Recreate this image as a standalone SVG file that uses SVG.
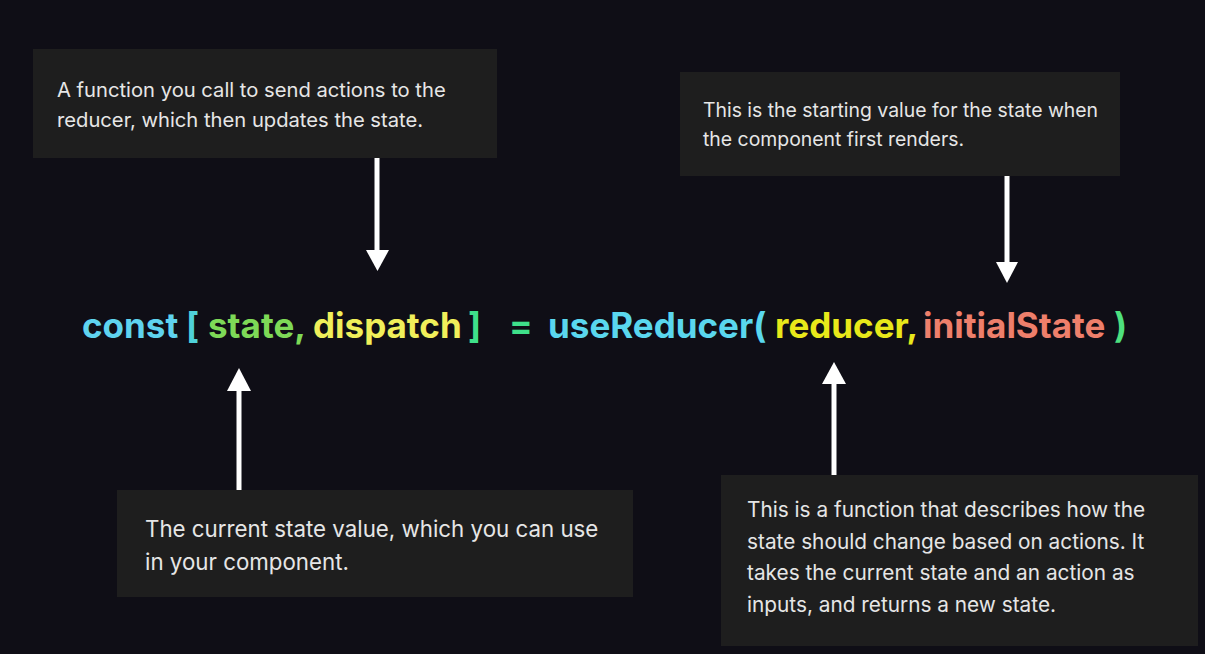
<svg xmlns="http://www.w3.org/2000/svg" width="1205" height="654" viewBox="0 0 1205 654">
<style>
.box{fill:#1e1e1e}
.t{font-family:Inter,"Noto Sans",sans-serif;fill:#e6e6e6}
.c{font-family:Inter,"Noto Sans",sans-serif;font-size:35px;font-weight:700}
.ln{stroke:#ffffff;stroke-width:5}
.hd{fill:#ffffff}
</style>
<rect width="1205" height="654" fill="#0f0e16"/>
<g id="box-dispatch">
<rect class="box" x="33" y="49" width="464" height="109"/>
<text class="t" font-size="20.2" x="57" y="97">A function you call to send actions to the</text>
<text class="t" font-size="20.2" x="57" y="127">reducer, which then updates the state.</text>
</g>
<g id="box-initial">
<rect class="box" x="680" y="72" width="440" height="104"/>
<text class="t" font-size="19.4" x="703" y="117">This is the starting value for the state when</text>
<text class="t" font-size="19.4" x="703" y="146">the component first renders.</text>
</g>
<g id="box-state">
<rect class="box" x="117" y="490" width="516" height="107"/>
<text class="t" font-size="22.3" x="145" y="537">The current state value, which you can use</text>
<text class="t" font-size="22.3" x="145" y="570">in your component.</text>
</g>
<g id="box-reducer">
<rect class="box" x="721" y="475" width="477" height="171"/>
<text class="t" font-size="20.8" x="747" y="517">This is a function that describes how the</text>
<text class="t" font-size="20.8" x="747" y="549">state should change based on actions. It</text>
<text class="t" font-size="20.8" x="747" y="580">takes the current state and an action as</text>
<text class="t" font-size="20.8" x="747" y="612">inputs, and returns a new state.</text>
</g>
<g id="code">
<text class="c" x="82" y="338" fill="#5fd3ef">const</text>
<text class="c" x="186" y="338" fill="#4fd1d9">[</text>
<text class="c" x="208" y="338" fill="#7ed957">state,</text>
<text class="c" x="313" y="338" fill="#f0ef5a">dispatch</text>
<text class="c" x="468" y="338" fill="#3fe08a">]</text>
<text class="c" x="509" y="338" fill="#3fe08a">=</text>
<text class="c" x="548" y="338" fill="#5ad7ee">useReducer(</text>
<text class="c" x="775" y="338" fill="#e8e81a">reducer,</text>
<text class="c" x="923" y="338" fill="#ee7f6b">initialState</text>
<text class="c" x="1114" y="338" fill="#4ee07f">)</text>
</g>
<g id="connectors">
<line class="ln" x1="377" y1="158" x2="377" y2="252"/>
<polygon class="hd" points="366,250 389,250 377.5,271"/>
<line class="ln" x1="1007" y1="176" x2="1007" y2="264"/>
<polygon class="hd" points="996,262 1018,262 1007,283"/>
<line class="ln" x1="239" y1="490" x2="239" y2="388"/>
<polygon class="hd" points="227,391 251,391 239,368"/>
<line class="ln" x1="834" y1="475" x2="834" y2="382"/>
<polygon class="hd" points="822,384 846,384 834,362"/>
</g>
</svg>
